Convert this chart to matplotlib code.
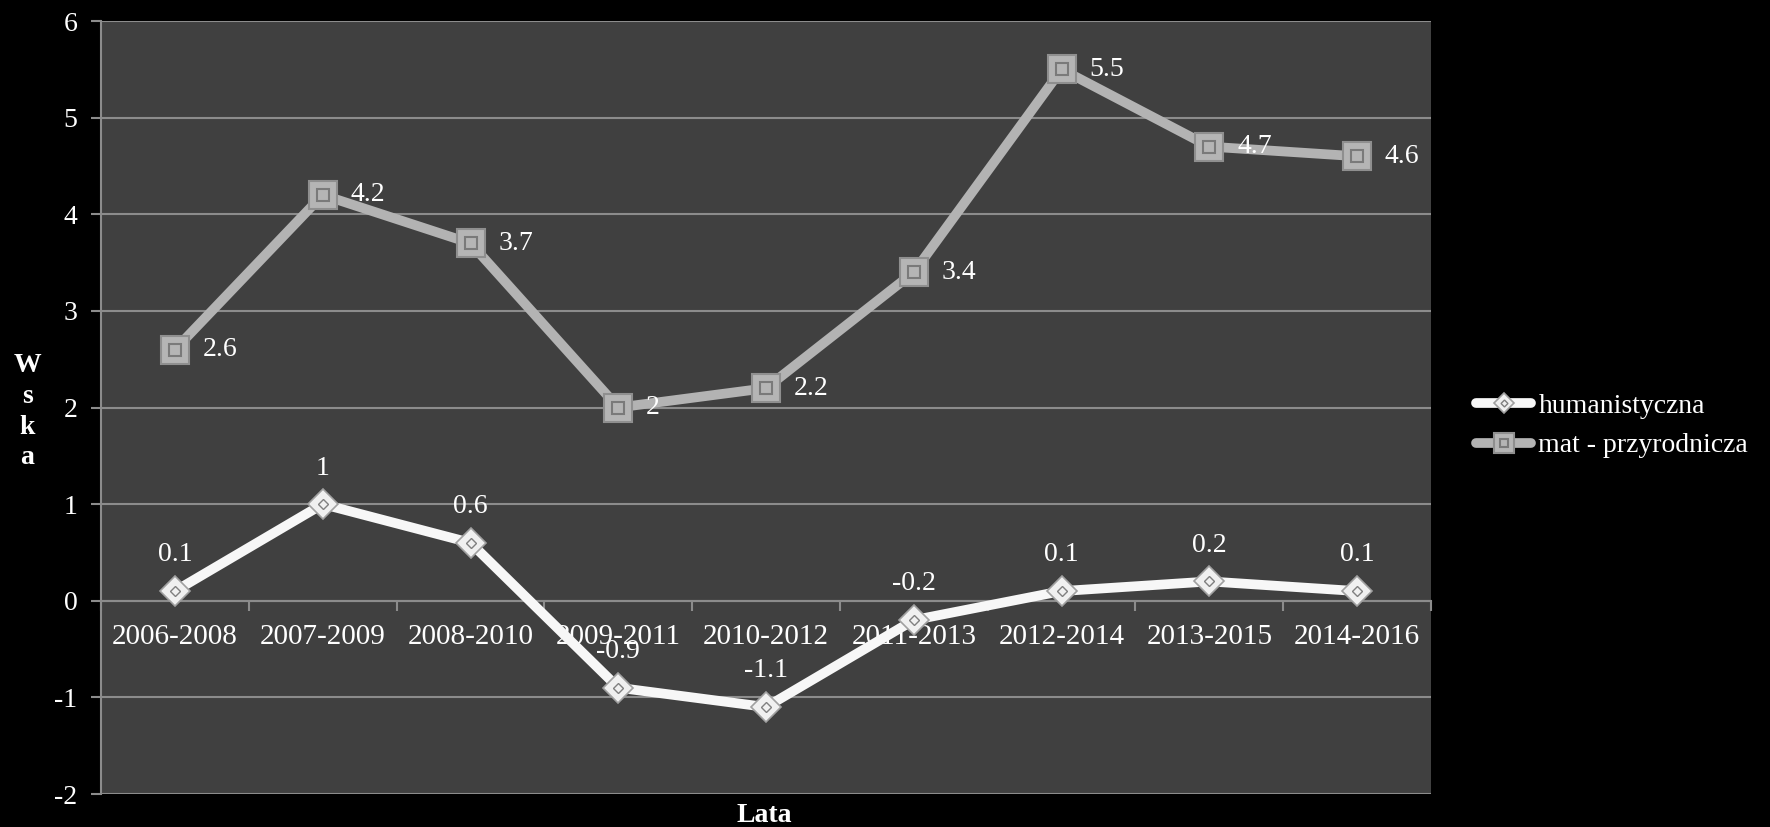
import numpy as np
import matplotlib.pyplot as plt

# dane
okresy = ['2006-2008', '2007-2009', '2008-2010', '2009-2011', '2010-2012',
          '2011-2013', '2012-2014', '2013-2015', '2014-2016']
humanistyczna = [0.1, 1, 0.6, -0.9, -1.1, -0.2, 0.1, 0.2, 0.1]
mat_przyrodnicza = [2.6, 4.2, 3.7, 2, 2.2, 3.4, 5.5, 4.7, 4.6]

plt.rcParams['font.family'] = ['Liberation Serif', 'DejaVu Serif']
plt.rcParams['axes.unicode_minus'] = False

fig = plt.figure(figsize=(17.7, 8.27), dpi=100, facecolor='black')
ax = fig.add_axes([0.0571, 0.0399, 0.7514, 0.9347])
ax.set_facecolor('#404040')

x = np.arange(len(okresy))

# mat - przyrodnicza
l_mat, = ax.plot(x, mat_przyrodnicza, color='#b3b3b3', lw=7, marker='s', ms=20,
                 mfc='#b5b5b5', mec='#8f8f8f', mew=1.5, zorder=3,
                 solid_capstyle='round')
i_mat, = ax.plot(x, mat_przyrodnicza, ls='none', marker='s', ms=9,
                 mfc='none', mec='#7a7a7a', mew=1.5, zorder=4)

# humanistyczna
l_hum, = ax.plot(x, humanistyczna, color='#f7f7f7', lw=7, marker='D', ms=15,
                 mfc='#f0f0f0', mec='#a0a0a0', mew=1.2, zorder=3,
                 solid_capstyle='round')
i_hum, = ax.plot(x, humanistyczna, ls='none', marker='D', ms=5,
                 mfc='none', mec='#808080', mew=1, zorder=4)

for xi, v in zip(x, mat_przyrodnicza):
    ax.annotate(f'{v:g}', (xi, v), xytext=(20, 0), textcoords='offset points',
                ha='left', va='center', color='white', fontsize=20, zorder=5)
for xi, v in zip(x, humanistyczna):
    ax.annotate(f'{v:g}', (xi, v), xytext=(0, 26), textcoords='offset points',
                ha='center', va='center', color='white', fontsize=20, zorder=5)

ax.set_xlim(-0.5, 8.5)
ax.set_ylim(-2, 6)
ax.set_yticks(range(-2, 7))
ax.yaxis.grid(True, color='#8c8c8c', lw=1.5)
ax.set_axisbelow(True)

ax.set_xticks(x)
ax.set_xticklabels(okresy)
ax.set_xticks(np.arange(-0.5, 9, 1), minor=True)
ax.tick_params(axis='x', which='major', length=0, pad=17, labelsize=21,
               labelcolor='white')
ax.tick_params(axis='x', which='minor', length=7, width=1.5, color='#8c8c8c',
               direction='out')
ax.tick_params(axis='y', length=7, width=1.5, color='#8c8c8c', labelsize=20,
               labelcolor='white', pad=10)

for s in ['top', 'right']:
    ax.spines[s].set_visible(False)
ax.spines['bottom'].set_position(('data', 0))
ax.spines['bottom'].set_color('#8c8c8c')
ax.spines['bottom'].set_linewidth(1.5)
ax.spines['left'].set_color('#8c8c8c')
ax.spines['left'].set_linewidth(1.5)

# opis osi Y (litery pionowo)
fig.text(0.0155, 0.502, 'W\ns\nk\na', color='white', fontsize=20,
         fontweight='bold', ha='center', va='center', linespacing=1.3)
fig.text(0.4316, 0.014, 'Lata', color='white', fontsize=20,
         fontweight='bold', ha='center', va='center')

leg = fig.legend([(l_hum, i_hum), (l_mat, i_mat)],
                 ['humanistyczna', 'mat - przyrodnicza'],
                 loc='center left', bbox_to_anchor=(0.826, 0.485),
                 frameon=False, fontsize=20, labelcolor='white',
                 handlelength=2.0, handletextpad=0.25, markerscale=0.7,
                 labelspacing=0.5, borderpad=0)

plt.savefig('out.png', dpi=100, facecolor='black')
